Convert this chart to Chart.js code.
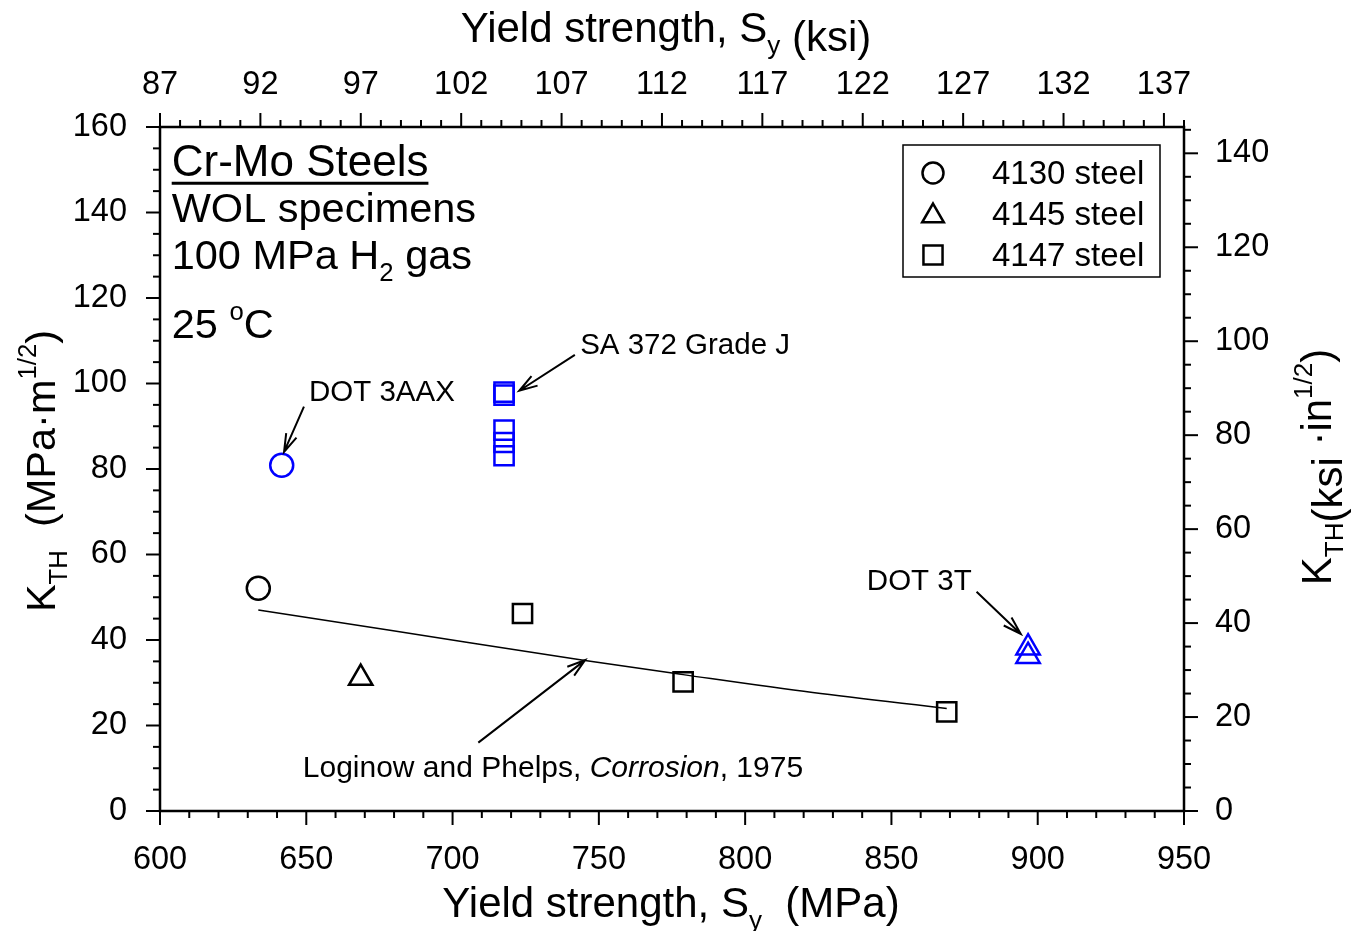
<!DOCTYPE html>
<html>
<head>
<meta charset="utf-8">
<script src="https://cdn.jsdelivr.net/npm/chart.js@4.4.0/dist/chart.umd.min.js"></script>
<style>
  html, body { margin: 0; padding: 0; background: #fff; }
  #wrap { width: 1358px; height: 931px; }
</style>
</head>
<body>
<div id="wrap"><canvas id="chart" width="1358" height="931"></canvas></div>
<script>
const FONT = "'Liberation Sans', Arial, Helvetica, sans-serif";
const NOIR = '#000000';
const BLEU = '#0000ff';

// ─── Axes ───────────
const xMajor = [600, 650, 700, 750, 800, 850, 900, 950];
const xHautMajor = [87, 92, 97, 102, 107, 112, 117, 122, 127, 132, 137];
const yMajor = [0, 20, 40, 60, 80, 100, 120, 140, 160];
const yDroiteMajor = [0, 20, 40, 60, 80, 100, 120, 140];

// ─── Données (Sy en MPa, KTH en MPa·m^1/2) ───────────
const acier4130X = [633.6];
const acier4130Y = [52.1];
const acier4130BleuX = [641.6];
const acier4130BleuY = [80.9];

const acier4145X = [668.6];
const acier4145Y = [31.1];
const acier4145BleuX = [896.7, 896.7];
const acier4145BleuY = [38.2, 36.2];

const acier4147X = [723.9, 778.8, 868.9];
const acier4147Y = [46.2, 30.2, 23.2];
const acier4147BleuX = [717.6, 717.6, 717.6, 717.6, 717.6];
const acier4147BleuY = [98.0, 97.3, 89.1, 86.2, 83.1];

// Loginow and Phelps, Corrosion, 1975
const courbeX = [633.6, 678.6, 745.3, 778.8, 823.1, 868.9];
const courbeY = [47.0, 42.3, 35.2, 31.9, 27.7, 24.0];

const pts = (xs, ys) => xs.map((x, i) => ({ x, y: ys[i] }));

const serie = (xs, ys, forme, rayon, couleur) => ({
  data: pts(xs, ys),
  pointStyle: forme,
  pointRadius: rayon,
  pointHoverRadius: rayon,
  pointBorderWidth: 2.5,
  pointBorderColor: couleur,
  pointBackgroundColor: 'rgba(0,0,0,0)',
  showLine: false,
  xAxisID: 'x',
  yAxisID: 'y'
});

// texte avec indices / exposants
const texteRiche = (ctx, segs, x, y, taille, opts = {}) => {
  ctx.save();
  ctx.translate(x, y);
  if (opts.angle) ctx.rotate(opts.angle);
  ctx.textBaseline = 'alphabetic';
  ctx.textAlign = 'left';
  ctx.fillStyle = NOIR;
  const items = segs.map(s => {
    const fs = (s.sub || s.sup) ? taille * 0.62 : taille;
    const font = `${s.it ? 'italic ' : ''}${fs}px ${FONT}`;
    ctx.font = font;
    return { ...s, font, w: ctx.measureText(s.t).width };
  });
  const total = items.reduce((a, it) => a + it.w, 0);
  let cx = opts.centre ? -total / 2 : 0;
  items.forEach(it => {
    let dy = it.dy || 0;
    if (it.sub) dy += taille * 0.28;
    if (it.sup) dy -= taille * 0.45;
    ctx.font = it.font;
    ctx.fillText(it.t, cx, dy);
    cx += it.w;
  });
  ctx.restore();
  return total;
};

const fleche = (ctx, x1, y1, x2, y2) => {
  const ang = Math.atan2(y2 - y1, x2 - x1);
  const L = 19, a = 0.3;
  ctx.beginPath();
  ctx.moveTo(x1, y1);
  ctx.lineTo(x2, y2);
  ctx.moveTo(x2 - L * Math.cos(ang - a), y2 - L * Math.sin(ang - a));
  ctx.lineTo(x2, y2);
  ctx.lineTo(x2 - L * Math.cos(ang + a), y2 - L * Math.sin(ang + a));
  ctx.stroke();
};

const symbole = (ctx, forme, x, y, r) => {
  ctx.beginPath();
  if (forme === 'circle') {
    ctx.arc(x, y, r, 0, Math.PI * 2);
  } else if (forme === 'triangle') {
    for (let k = 0; k < 3; k++) {
      const a = k * 2 * Math.PI / 3;
      const px = x + Math.sin(a) * r, py = y - Math.cos(a) * r;
      k === 0 ? ctx.moveTo(px, py) : ctx.lineTo(px, py);
    }
    ctx.closePath();
  } else {
    const s = r * Math.SQRT1_2;
    ctx.rect(x - s, y - s, 2 * s, 2 * s);
  }
  ctx.stroke();
};

// graduations majeures / mineures
const graduer = (ctx, scale, pas, majors, cote, ca) => {
  const eps = 1e-6;
  for (let v = scale.min; v <= scale.max + eps; v += pas) {
    const val = Math.round(v * 1000) / 1000;
    const estMajor = majors.some(m => Math.abs(m - val) < eps);
    const len = estMajor ? 14 : 7;
    const p = scale.getPixelForValue(val);
    ctx.beginPath();
    if (cote === 'bas') { ctx.moveTo(p, ca.bottom); ctx.lineTo(p, ca.bottom + len); }
    if (cote === 'haut') { ctx.moveTo(p, ca.top); ctx.lineTo(p, ca.top - len); }
    if (cote === 'gauche') { ctx.moveTo(ca.left, p); ctx.lineTo(ca.left - len, p); }
    if (cote === 'droite') { ctx.moveTo(ca.right, p); ctx.lineTo(ca.right + len, p); }
    ctx.stroke();
  }
};

const decor = {
  id: 'decor',
  afterDraw(chart) {
    const ctx = chart.ctx;
    const ca = chart.chartArea;
    const sx = chart.scales.x, sy = chart.scales.y;
    const X = v => sx.getPixelForValue(v);
    const Y = v => sy.getPixelForValue(v);

    ctx.save();
    ctx.strokeStyle = NOIR;
    ctx.lineWidth = 2.5;
    ctx.strokeRect(ca.left, ca.top, ca.right - ca.left, ca.bottom - ca.top);
    ctx.lineWidth = 2;
    graduer(ctx, sx, 10, xMajor, 'bas', ca);
    graduer(ctx, chart.scales.xHaut, 1, xHautMajor, 'haut', ca);
    graduer(ctx, sy, 5, yMajor, 'gauche', ca);
    graduer(ctx, chart.scales.yDroite, 5, yDroiteMajor, 'droite', ca);

    // bloc de texte en haut à gauche
    const w = texteRiche(ctx, [{ t: 'Cr-Mo Steels' }], X(604.0), Y(148.5), 44);
    ctx.lineWidth = 3;
    ctx.beginPath();
    ctx.moveTo(X(604.0), Y(148.5) + 7);
    ctx.lineTo(X(604.0) + w, Y(148.5) + 7);
    ctx.stroke();
    texteRiche(ctx, [{ t: 'WOL specimens' }], X(604.0), Y(137.8), 41.5);
    texteRiche(ctx, [{ t: '100 MPa H' }, { t: '2', sub: true }, { t: ' gas' }], X(604.0), Y(126.7), 41.5);
    texteRiche(ctx, [{ t: '25 ' }, { t: 'o', sup: true }, { t: 'C' }], X(604.0), Y(110.6), 41.5);

    // annotations
    ctx.lineWidth = 2;
    texteRiche(ctx, [{ t: 'DOT 3AAX' }], X(650.9), Y(96.0), 29.5);
    fleche(ctx, X(649.2), Y(94.6), X(642.4), Y(84.0));
    texteRiche(ctx, [{ t: 'SA 372 Grade J' }], X(743.6), Y(107.0), 29.5);
    fleche(ctx, X(741.8), Y(106.7), X(722.8), Y(98.3));
    texteRiche(ctx, [{ t: 'DOT 3T' }], X(841.6), Y(51.6), 29.5);
    fleche(ctx, X(879.1), Y(51.3), X(894.2), Y(41.4));
    texteRiche(ctx, [{ t: 'Loginow and Phelps, ' }, { t: 'Corrosion', it: true }, { t: ', 1975' }], X(648.8), Y(7.9), 30);
    fleche(ctx, X(708.8), Y(16.0), X(745.3), Y(35.3));

    // légende
    ctx.lineWidth = 1.5;
    ctx.strokeRect(ca.right - 281, ca.top + 18, 257, 132);
    ctx.lineWidth = 2.5;
    const lignes = [['circle', 10.5, '4130 steel'], ['triangle', 12.5, '4145 steel'], ['rect', 13.5, '4147 steel']];
    lignes.forEach(([forme, r, label], i) => {
      const yc = ca.top + 46 + i * 41;
      symbole(ctx, forme, ca.right - 251, yc + (forme === 'triangle' ? 2 : 0), r);
      texteRiche(ctx, [{ t: label }], ca.right - 192, yc + 10.5, 33);
    });

    // titres des axes
    texteRiche(ctx, [{ t: 'Yield strength, S' }, { t: 'y', sub: true }, { t: '  (MPa)' }], 671, 917, 42, { centre: true });
    texteRiche(ctx, [{ t: 'Yield strength, S' }, { t: 'y', sub: true }, { t: ' (ksi)', dy: 9 }], 666, 42, 42, { centre: true });
    texteRiche(ctx, [{ t: 'K' }, { t: 'TH', sub: true }, { t: '  (MPa·m' }, { t: '1/2', sup: true }, { t: ')' }],
      55, 471, 41.5, { centre: true, angle: -Math.PI / 2 });
    texteRiche(ctx, [{ t: 'K' }, { t: 'TH', sub: true }, { t: '(ksi', dy: 11 }, { t: ' ·in' }, { t: '1/2', sup: true }, { t: ')' }],
      1331, 467, 42, { centre: true, angle: -Math.PI / 2 });
    ctx.restore();
  }
};

const policeTicks = { family: FONT, size: 32.5 };
const axe = (pos, min, max, majors, padding, fit) => ({
  type: 'linear',
  position: pos,
  min, max,
  afterBuildTicks: s => { s.ticks = majors.map(v => ({ value: v })); },
  afterFit: fit,
  grid: { display: false, drawTicks: false },
  border: { display: false },
  ticks: { padding, font: policeTicks, color: NOIR, autoSkip: false, maxRotation: 0 }
});

new Chart(document.getElementById('chart'), {
  type: 'scatter',
  data: {
    datasets: [
      {
        data: pts(courbeX, courbeY),
        showLine: true,
        borderColor: NOIR,
        borderWidth: 1.5,
        pointRadius: 0,
        cubicInterpolationMode: 'monotone',
        fill: false,
        xAxisID: 'x',
        yAxisID: 'y'
      },
      serie(acier4130X, acier4130Y, 'circle', 11.5, NOIR),
      serie(acier4130BleuX, acier4130BleuY, 'circle', 11.5, BLEU),
      serie(acier4145X, acier4145Y, 'triangle', 13.5, NOIR),
      serie(acier4145BleuX, acier4145BleuY, 'triangle', 13.5, BLEU),
      serie(acier4147X, acier4147Y, 'rect', 13.6, NOIR),
      serie(acier4147BleuX, acier4147BleuY, 'rect', 13.6, BLEU)
    ]
  },
  options: {
    responsive: false,
    animation: false,
    devicePixelRatio: 1,
    events: [],
    layout: { padding: 0 },
    plugins: { legend: { display: false }, tooltip: { enabled: false } },
    scales: {
      x: axe('bottom', 600, 950, xMajor, 30, s => { s.height = 120; }),
      xHaut: axe('top', 87, 138, xHautMajor, 22, s => { s.height = 127; }),
      y: axe('left', 0, 160, yMajor, 33, s => { s.width = 160; }),
      yDroite: axe('right', 0, 145.6, yDroiteMajor, 31, s => { s.width = 174; })
    }
  },
  plugins: [decor]
});
</script>
</body>
</html>
